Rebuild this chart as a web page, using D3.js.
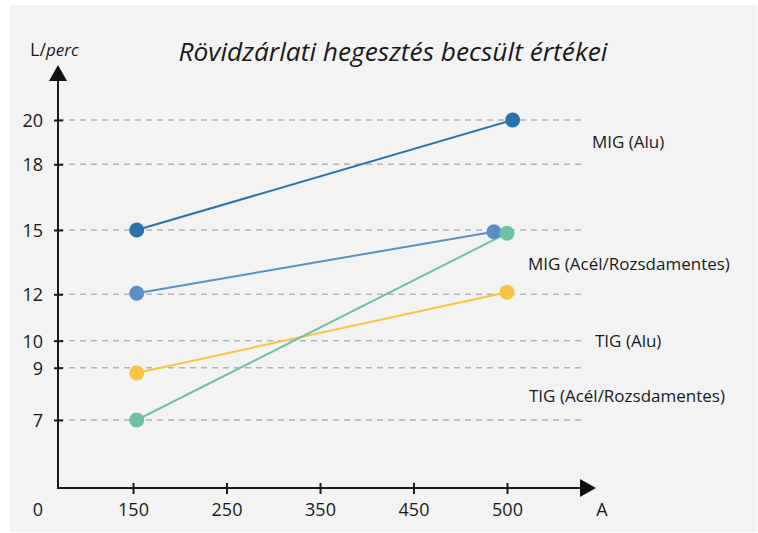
<!DOCTYPE html>
<html>
<head>
<meta charset="utf-8">
<script src="https://cdn.jsdelivr.net/npm/d3@7"></script>
<style>
  body { margin: 0; background: #fff; }
  text { font-family: "Open Sans", sans-serif; fill: #1a1a1a; }
</style>
</head>
<body>
<svg id="chart" width="758" height="533"></svg>
<script>
// tick values (the drawing is not to scale, ticks are evenly spaced on x)
var xTicks = [150, 250, 350, 450, 500];
var yTicks = [7, 9, 10, 12, 15, 18, 20];

// four lines, start and end point each
var lineNames = ['MIG (Alu)', 'MIG (Acél/Rozsdamentes)', 'TIG (Alu)', 'TIG (Acél/Rozsdamentes)'];
var startA = [154, 154, 154, 154];
var endA = [503, 493, 500, 500];
var startL = [15, 12.05, 8.8, 7];
var endL = [20, 14.92, 12.1, 14.85];
var lineColors = ['#2a72ad', '#5b8fc1', '#f8c443', '#6cc2a3'];

// text labels on the right, placed at a value level
var labelText = ['MIG (Alu)', 'MIG (Acél/Rozsdamentes)', 'TIG (Alu)', 'TIG (Acél/Rozsdamentes)'];
var labelL = [19, 13.4, 10, 7.9];

var svg = d3.select('#chart');

// background panel
svg.append('rect').attr('x', 10).attr('y', 5).attr('width', 747).attr('height', 527).attr('fill', '#f3f3f3');

var x0 = 58, y0 = 488;

// piecewise scales so ticks land where the original put them
var x = d3.scaleLinear().domain(xTicks).range([133, 226.5, 320, 413.5, 507]);
var y = d3.scaleLinear().domain(yTicks).range([420, 367.7, 340.7, 294.3, 230, 164.3, 120]);

// dashed guide lines
svg.append('g').selectAll('line').data(yTicks).join('line')
  .attr('x1', x0).attr('x2', 583)
  .attr('y1', d => y(d)).attr('y2', d => y(d))
  .attr('stroke', '#b3b3b3').attr('stroke-width', 1.5)
  .attr('stroke-dasharray', '6,5');

// y axis
var yAxis = d3.axisLeft(y).tickValues(yTicks).tickSize(0).tickPadding(0);
var gy = svg.append('g').attr('transform', 'translate(' + x0 + ',0)').call(yAxis);
gy.select('.domain').remove();
gy.selectAll('.tick text').attr('x', -15).attr('dy', '0.35em')
  .style('font-size', '18px').style('font-family', '"Open Sans", sans-serif').attr('fill', '#1a1a1a');
gy.selectAll('.tick').append('line').attr('x1', -4).attr('x2', 5).attr('stroke', '#1a1a1a').attr('stroke-width', 2);

// x axis
var xAxis = d3.axisBottom(x).tickValues(xTicks).tickSize(0).tickPadding(0);
var gx = svg.append('g').attr('transform', 'translate(0,' + y0 + ')').call(xAxis);
gx.select('.domain').remove();
gx.selectAll('.tick text').attr('y', 28).attr('dy', 0)
  .style('font-size', '18px').style('font-family', '"Open Sans", sans-serif').attr('fill', '#1a1a1a');
gx.selectAll('.tick').append('line').attr('y1', -5).attr('y2', 6).attr('stroke', '#1a1a1a').attr('stroke-width', 2);

// axis lines with arrows
svg.append('line').attr('x1', x0).attr('x2', x0).attr('y1', y0 + 1).attr('y2', 78)
  .attr('stroke', '#1a1a1a').attr('stroke-width', 2);
svg.append('line').attr('x1', x0 - 1).attr('x2', 582).attr('y1', y0).attr('y2', y0)
  .attr('stroke', '#1a1a1a').attr('stroke-width', 2);
svg.append('path').attr('d', 'M' + x0 + ',65 L' + (x0 + 9) + ',81 L' + (x0 - 9) + ',81 Z').attr('fill', '#111');
svg.append('path').attr('d', 'M596,' + y0 + ' L580,' + (y0 - 9) + ' L580,' + (y0 + 9) + ' Z').attr('fill', '#111');

// axis names
svg.append('text').attr('x', 38).attr('y', 516).attr('text-anchor', 'middle').style('font-size', '18px').text('0');
svg.append('text').attr('x', 602).attr('y', 516).attr('text-anchor', 'middle').style('font-size', '18px').text('A');
var yl = svg.append('text').attr('x', 30).attr('y', 56).style('font-size', '18px');
yl.append('tspan').text('L/');
yl.append('tspan').style('font-style', 'italic').style('font-size', '17px').text('perc');

// title
svg.append('text').attr('x', 393).attr('y', 61).attr('text-anchor', 'middle')
  .style('font-size', '26.3px').style('font-style', 'italic')
  .text('Rövidzárlati hegesztés becsült értékei');

// lines and dots
var idx = d3.range(lineNames.length);
svg.append('g').selectAll('line').data(idx).join('line')
  .attr('x1', i => x(startA[i])).attr('y1', i => y(startL[i]))
  .attr('x2', i => x(endA[i])).attr('y2', i => y(endL[i]))
  .attr('stroke', i => lineColors[i]).attr('stroke-width', 2);

var dots = [];
idx.forEach(function (i) {
  dots.push({ a: startA[i], l: startL[i], c: lineColors[i] });
  dots.push({ a: endA[i], l: endL[i], c: lineColors[i] });
});
svg.append('g').selectAll('circle').data(dots).join('circle')
  .attr('cx', d => x(d.a)).attr('cy', d => y(d.l)).attr('r', 7.5)
  .attr('fill', d => d.c);

// right-hand labels
var labelX = [592, 528, 595, 529];
svg.append('g').selectAll('text').data(d3.range(labelText.length)).join('text')
  .attr('x', i => labelX[i]).attr('y', i => y(labelL[i])).attr('dy', '0.35em')
  .style('font-size', '17px')
  .text(i => labelText[i]);
</script>
</body>
</html>
